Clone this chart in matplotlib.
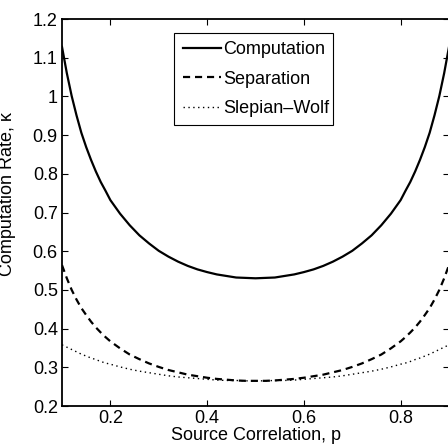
import matplotlib
matplotlib.use("Agg")
import matplotlib.pyplot as plt

plt.rcParams['font.family'] = ['Liberation Sans', 'DejaVu Sans']

p = [0.10, 0.11, 0.12, 0.13, 0.14, 0.15, 0.16, 0.17, 0.18, 0.19, 0.20,
     0.22, 0.24, 0.26, 0.28, 0.30, 0.32, 0.34, 0.36, 0.38, 0.40,
     0.42, 0.44, 0.46, 0.48, 0.50, 0.52, 0.54, 0.56, 0.58, 0.60,
     0.62, 0.64, 0.66, 0.68, 0.70, 0.72, 0.74, 0.76, 0.78, 0.80,
     0.81, 0.82, 0.83, 0.84, 0.85, 0.86, 0.87, 0.88, 0.89, 0.90]

computation = [1.128, 1.060, 1.001, 0.951, 0.906, 0.869, 0.836, 0.806, 0.779, 0.756, 0.732,
               0.697, 0.667, 0.641, 0.620, 0.601, 0.586, 0.573, 0.562, 0.553, 0.546,
               0.540, 0.536, 0.532, 0.531, 0.530, 0.531, 0.532, 0.536, 0.540, 0.546,
               0.553, 0.562, 0.573, 0.586, 0.601, 0.620, 0.641, 0.667, 0.697, 0.732,
               0.756, 0.779, 0.806, 0.836, 0.869, 0.906, 0.951, 1.001, 1.060, 1.128]

separation = [0.564, 0.530, 0.500, 0.475, 0.453, 0.435, 0.418, 0.403, 0.390, 0.378, 0.367,
              0.349, 0.333, 0.321, 0.310, 0.301, 0.293, 0.287, 0.281, 0.277, 0.273,
              0.270, 0.268, 0.266, 0.265, 0.265, 0.265, 0.266, 0.268, 0.270, 0.273,
              0.277, 0.281, 0.287, 0.293, 0.301, 0.310, 0.321, 0.333, 0.349, 0.367,
              0.378, 0.390, 0.403, 0.418, 0.435, 0.453, 0.475, 0.500, 0.530, 0.564]

slepian_wolf = [0.358, 0.352, 0.346, 0.340, 0.334, 0.329, 0.324, 0.320, 0.315, 0.311, 0.308,
                0.301, 0.295, 0.290, 0.286, 0.282, 0.278, 0.275, 0.273, 0.271, 0.269,
                0.267, 0.266, 0.266, 0.265, 0.265, 0.265, 0.266, 0.266, 0.267, 0.269,
                0.271, 0.273, 0.275, 0.278, 0.282, 0.286, 0.290, 0.295, 0.301, 0.308,
                0.311, 0.315, 0.320, 0.324, 0.329, 0.334, 0.340, 0.346, 0.352, 0.358]

labels = ['Computation', 'Separation', 'Slepian\u2013Wolf']
x_ticks = [0.2, 0.4, 0.6, 0.8]
y_ticks = [0.2, 0.3, 0.4, 0.5, 0.6, 0.7, 0.8, 0.9, 1.0, 1.1, 1.2]
y_ticklabels = ['0.2', '0.3', '0.4', '0.5', '0.6', '0.7', '0.8', '0.9', '1', '1.1', '1.2']

fig = plt.figure(figsize=(4.48, 4.48), dpi=100)
ax = fig.add_axes([62/448, 1 - 406/448, 387/448, 387/448])

ax.plot(p, computation, color='black', linestyle='-', linewidth=1.6, label=labels[0])
ax.plot(p, separation, color='black', linestyle=(0, (3.2, 2.2)), linewidth=1.6, label=labels[1])
ax.plot(p, slepian_wolf, color='black', linestyle=(0, (1, 2.5)), linewidth=1.0, label=labels[2])

ax.set_xlim(0.1, 0.9)
ax.set_ylim(0.2, 1.2)
ax.set_xticks(x_ticks)
ax.set_xticklabels(['0.2', '0.4', '0.6', '0.8'])
ax.set_yticks(y_ticks)
ax.set_yticklabels(y_ticklabels)
ax.tick_params(direction='in', length=4, width=0.8, top=True, right=True,
               labelsize=13, pad=3, colors='black')
for s in ax.spines.values():
    s.set_linewidth(1.3)
    s.set_color('black')

ax.set_xlabel('Source Correlation, p', fontsize=13, labelpad=0)
ax.set_ylabel('Computation Rate, \u03ba', fontsize=13)
ax.yaxis.set_label_coords(-0.12, 0.548)

leg = ax.legend(loc='upper left', bbox_to_anchor=(0.29, 0.726, 0.409, 0.238),
                mode='expand', borderaxespad=0,
                fancybox=False, edgecolor='black', framealpha=1, fontsize=13,
                handlelength=2.1, handletextpad=0.15, labelspacing=0.68,
                borderpad=0.47)
leg.get_frame().set_linewidth(0.8)

fig.savefig('out.png', dpi=100)
